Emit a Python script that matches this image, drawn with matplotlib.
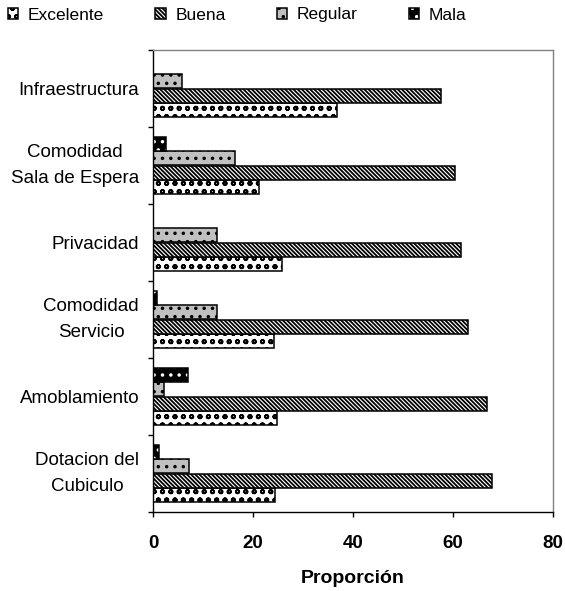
import matplotlib
matplotlib.use("Agg")
import matplotlib.pyplot as plt
import numpy as np
from matplotlib.patches import Patch
from matplotlib.legend_handler import HandlerTuple

plt.rcParams["font.family"] = ["Liberation Sans", "DejaVu Sans"]
plt.rcParams["hatch.linewidth"] = 1.3

categories = ["Infraestructura", "Comodidad\nSala de Espera", "Privacidad",
              "Comodidad\nServicio", "Amoblamiento", "Dotacion del\nCubiculo"]
excelente = [36.7, 21.1, 25.7, 24.1, 24.7, 24.3]
buena = [57.6, 60.4, 61.5, 62.9, 66.8, 67.8]
regular = [5.7, 16.3, 12.7, 12.7, 2.1, 7.1]
mala = [0.0, 2.5, 0.0, 0.7, 6.9, 1.2]
series_names = ["Excelente", "Buena", "Regular", "Mala"]
x_ticks = [0, 20, 40, 60, 80]

fig = plt.figure(figsize=(5.65, 5.91), dpi=100)
ax = fig.add_axes([153 / 565, 1 - 512 / 591, 400 / 565, 462 / 591])

y = np.arange(len(categories))
h = 0.18
offsets = {"Mala": -0.277, "Regular": -0.092, "Buena": 0.092, "Excelente": 0.277}
edge_lw = 1.1

exc_style = dict(facecolor="white", edgecolor="black", hatch="oo")
bue_style = dict(facecolor="white", edgecolor="black", hatch="\\" * 8)
reg_style = dict(facecolor="#c0c0c0", edgecolor="black", hatch="..")
mal_fill = dict(facecolor="black", edgecolor="white", hatch="..")

ax.barh(y + offsets["Excelente"], excelente, height=h, linewidth=edge_lw,
        zorder=2, **exc_style)
ax.barh(y + offsets["Buena"], buena, height=h, linewidth=edge_lw,
        zorder=2, **bue_style)
ax.barh(y + offsets["Regular"], regular, height=h, linewidth=edge_lw,
        zorder=2, **reg_style)
# black bars with white dots: fill+hatch first, then a black outline on top
ax.barh(y + offsets["Mala"], mala, height=h, linewidth=0, zorder=2, **mal_fill)
ax.barh(y + offsets["Mala"], mala, height=h, fill=False,
        edgecolor="black", linewidth=edge_lw, zorder=3)

ax.set_xlim(0, 80)
ax.set_ylim(len(categories) - 0.5, -0.5)
ax.set_xticks(x_ticks)
ax.set_xticklabels([str(t) for t in x_ticks], fontsize=13.5, fontweight="bold")
ax.tick_params(axis="x", direction="out", length=3.6, width=1, pad=13)

ax.set_yticks(y)
ax.set_yticklabels(categories, fontsize=13.5, multialignment="center",
                   linespacing=1.75)
for lbl in ax.get_yticklabels():
    if "\n" in lbl.get_text():
        lbl.set_verticalalignment("center")
ax.tick_params(axis="y", which="major", length=0, pad=10)
ax.set_yticks(np.arange(-0.5, len(categories) + 0.5, 1), minor=True)
ax.tick_params(axis="y", which="minor", direction="out", length=3.6, width=1)

for side in ("top", "right"):
    ax.spines[side].set_color("#808080")
    ax.spines[side].set_linewidth(1.0)
for side in ("left", "bottom"):
    ax.spines[side].set_color("black")
    ax.spines[side].set_linewidth(1.0)

ax.set_xlabel("Proporción", fontsize=14, fontweight="bold", labelpad=13)

handles = [
    Patch(linewidth=edge_lw, **exc_style),
    Patch(linewidth=edge_lw, **bue_style),
    Patch(linewidth=edge_lw, **reg_style),
    (Patch(linewidth=0, **mal_fill),
     Patch(fill=False, edgecolor="black", linewidth=edge_lw)),
]
fig.legend(handles, series_names, loc="center left",
           bbox_to_anchor=(8 / 565, 1 - 15 / 591), ncol=4, frameon=False,
           fontsize=12.5, handlelength=0.6, handleheight=0.6,
           handletextpad=0.55, columnspacing=2.95, borderpad=0,
           borderaxespad=0, handler_map={tuple: HandlerTuple(ndivide=1)})

fig.savefig("out.png", dpi=100)
